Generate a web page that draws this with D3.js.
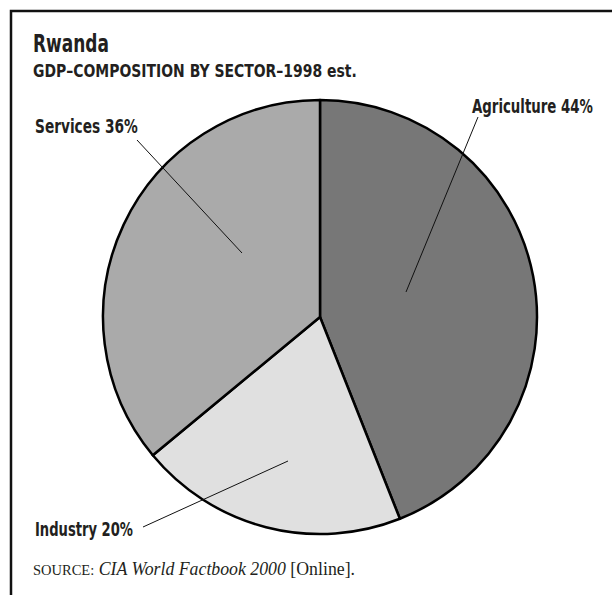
<!DOCTYPE html>
<html>
<head>
<meta charset="utf-8">
<script src="https://cdn.jsdelivr.net/npm/d3@7"></script>
<style>
  html, body { margin: 0; padding: 0; background: #fff; }
  svg { display: block; }
  .cond { font-family: "Liberation Sans Narrow", "DejaVu Sans Condensed", "Arial Narrow", sans-serif; font-weight: bold; fill: #231f20; }
  .serif { font-family: "Liberation Serif", "DejaVu Serif", serif; fill: #231f20; }
</style>
</head>
<body>
<script>
// ---- data ----
const sectors = ["Agriculture", "Industry", "Services"];
const shares = [44, 20, 36];
const sliceColors = ["#777777", "#e0e0e0", "#aaaaaa"];
const labelTexts = ["Agriculture 44%", "Industry 20%", "Services 36%"];
const titleText = "Rwanda";
const subtitleText = "GDP\u2013COMPOSITION BY SECTOR\u20131998 est.";

// ---- layout ----
const W = 612, H = 595;
const cx = 320, cy = 317, R = 217;
// label layout: text position, text width, leader start (near text) and leader end (inside slice)
const labelLayout = [
  { x: 472, y: 113, w: 121, lx1: 478, ly1: 117, lx2: 406, ly2: 292 },
  { x: 35,  y: 536, w: 98,  lx1: 143, ly1: 527, lx2: 288, ly2: 461 },
  { x: 35,  y: 133, w: 103, lx1: 137, ly1: 140, lx2: 242, ly2: 253 }
];

const svg = d3.select("body").append("svg")
  .attr("width", W).attr("height", H);

// condensed text: horizontally scaled to a target width
function condText(x, y, size, width, str) {
  const t = svg.append("text").attr("class", "cond")
    .attr("x", 0).attr("y", 0)
    .attr("font-size", size)
    .text(str);
  const natural = t.node().getComputedTextLength();
  const sx = natural > 0 ? width / natural : 1;
  t.attr("transform", `translate(${x},${y}) scale(${sx},1)`);
  return t;
}

// frame (top and left rules)
svg.append("path")
  .attr("d", `M11,${H} V11 H${W}`)
  .attr("fill", "none").attr("stroke", "#111").attr("stroke-width", 2.5);

// titles
condText(33, 52, 25, 76, titleText);
condText(33, 77, 17, 324, subtitleText);

// pie
const pie = d3.pie().sort(null).value(d => d.value);
const arcs = pie(sectors.map((s, i) => ({ name: s, value: shares[i], color: sliceColors[i] })));
const arc = d3.arc().innerRadius(0).outerRadius(R);

const g = svg.append("g").attr("transform", `translate(${cx},${cy})`);
g.selectAll("path.slice")
  .data(arcs)
  .join("path")
  .attr("class", "slice")
  .attr("d", arc)
  .attr("fill", d => d.data.color)
  .attr("stroke", "#000")
  .attr("stroke-width", 2.5)
  .attr("stroke-linejoin", "round");

// leader lines
svg.selectAll("line.leader")
  .data(labelLayout)
  .join("line")
  .attr("class", "leader")
  .attr("x1", d => d.lx1).attr("y1", d => d.ly1)
  .attr("x2", d => d.lx2).attr("y2", d => d.ly2)
  .attr("stroke", "#111").attr("stroke-width", 1);

// labels
labelLayout.forEach((d, i) => condText(d.x, d.y, 19, d.w, labelTexts[i]));

// source
const src = svg.append("text").attr("class", "serif")
  .attr("x", 33).attr("y", 575).attr("font-size", 17.8);
src.append("tspan").attr("font-size", 14.5).text("SOURCE:");
src.append("tspan").text(" ");
src.append("tspan").attr("font-style", "italic").text("CIA World Factbook 2000");
src.append("tspan").text(" [Online].");
</script>
</body>
</html>
